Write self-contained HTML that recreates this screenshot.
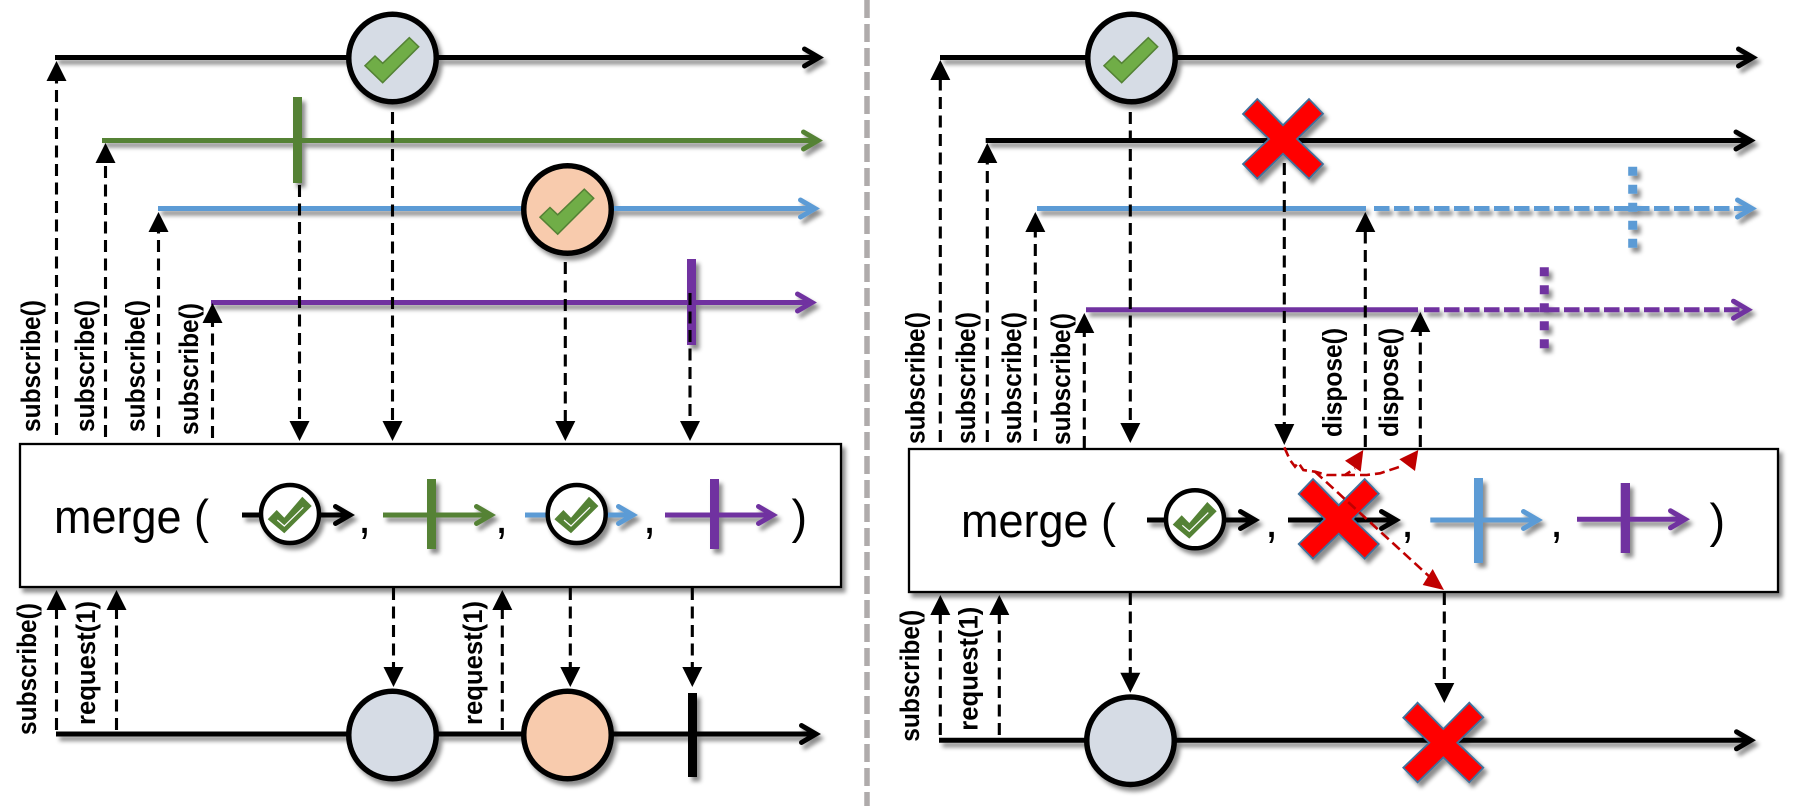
<!DOCTYPE html>
<html lang="en">
<head>
<meta charset="utf-8">
<title>merge diagram</title>
<style>
html,body{margin:0;padding:0;background:#fff;}
svg{display:block;}
.lbl{font-family:"Liberation Sans",sans-serif;font-weight:700;font-size:27px;fill:#000;}
.big{font-family:"Liberation Sans",sans-serif;font-size:47px;fill:#000;}
.d{stroke:#000;stroke-width:3.1;stroke-dasharray:12 6.5;fill:none;}
.ln{stroke-width:5;fill:none;}
.ch{stroke-width:5;fill:none;stroke-linecap:round;stroke-linejoin:miter;}
.k{stroke:#000;}.g{stroke:#548235;}.b{stroke:#5b9bd5;}.p{stroke:#7030a0;}
.chk{fill:#70ad47;stroke:#548235;stroke-width:1.5;}
.x{fill:#f00;stroke:#41719c;stroke-width:1.8;}
.r{stroke:#c00000;stroke-width:2.6;stroke-dasharray:10 5;fill:none;}
</style>
</head>
<body>
<svg xmlns="http://www.w3.org/2000/svg" width="1794" height="810" viewBox="0 0 1794 810">
<defs>
<filter id="s" filterUnits="userSpaceOnUse" x="0" y="0" width="1794" height="810">
<feDropShadow dx="3.5" dy="4.5" stdDeviation="2.2" flood-color="#000" flood-opacity="0.45"/>
</filter>
</defs>
<rect width="1794" height="810" fill="#fff"/>

<!-- divider -->
<line x1="867" y1="0" x2="867" y2="806" stroke="#afabab" stroke-width="5.5" stroke-dasharray="18 6"/>

<!-- boxes -->
<g filter="url(#s)">
<rect x="20" y="444" width="821" height="143" fill="#fff" stroke="#000" stroke-width="2.3"/>
<rect x="909" y="449" width="869" height="143" fill="#fff" stroke="#000" stroke-width="2.3"/>
</g>

<!-- left streams -->
<g filter="url(#s)">
<line class="ln k" x1="55" y1="57.5" x2="819" y2="57.5"/>
<polyline class="ch k" points="804.5,49 819,57.5 804.5,66"/>
<line class="ln g" x1="102" y1="140.5" x2="818" y2="140.5"/>
<polyline class="ch g" points="803.5,132 818,140.5 803.5,149"/>
<rect x="293" y="97" width="9" height="86" fill="#548235"/>
<line class="ln b" x1="158" y1="208.5" x2="815" y2="208.5"/>
<polyline class="ch b" points="800.5,200 815,208.5 800.5,217"/>
<line class="ln p" x1="211" y1="302.5" x2="812" y2="302.5"/>
<polyline class="ch p" points="797.5,294 812,302.5 797.5,311"/>
<rect x="687" y="259" width="9" height="86" fill="#7030a0"/>
<circle cx="392.5" cy="58" r="43.75" fill="#d6dce5" stroke="#000" stroke-width="5.5"/>
<circle cx="567.5" cy="209.5" r="43.75" fill="#f8cbad" stroke="#000" stroke-width="5.5"/>
<!-- left bottom -->
<line class="ln k" x1="56" y1="734" x2="816" y2="734"/>
<polyline class="ch k" points="801.5,725.5 816,734 801.5,742.5"/>
<circle cx="392.5" cy="735" r="43.75" fill="#d6dce5" stroke="#000" stroke-width="5.5"/>
<circle cx="567.5" cy="735" r="43.75" fill="#f8cbad" stroke="#000" stroke-width="5.5"/>
<rect x="688" y="693" width="9" height="84" fill="#000"/>
<!-- left box icons -->
<line class="ln k" x1="242" y1="515" x2="350" y2="515"/>
<polyline class="ch k" points="335.5,506.5 350,515 335.5,523.5"/>
<circle cx="290" cy="514" r="29" fill="#fff" stroke="#000" stroke-width="4.5"/>
<line class="ln g" x1="383" y1="515" x2="491" y2="515"/>
<polyline class="ch g" points="476.5,506.5 491,515 476.5,523.5"/>
<rect x="427" y="479" width="9" height="70" fill="#548235"/>
<line class="ln b" x1="525" y1="515" x2="633" y2="515"/>
<polyline class="ch b" points="618.5,506.5 633,515 618.5,523.5"/>
<circle cx="576.7" cy="514" r="29" fill="#fff" stroke="#000" stroke-width="4.5"/>
<line class="ln p" x1="665" y1="515" x2="773" y2="515"/>
<polyline class="ch p" points="758.5,506.5 773,515 758.5,523.5"/>
<rect x="710" y="479" width="9" height="70" fill="#7030a0"/>
</g>

<!-- right streams -->
<g filter="url(#s)">
<line class="ln k" x1="940" y1="57.5" x2="1753" y2="57.5"/>
<polyline class="ch k" points="1738.5,49 1753,57.5 1738.5,66"/>
<line class="ln k" x1="985.7" y1="140.5" x2="1750.7" y2="140.5"/>
<polyline class="ch k" points="1736,132 1750.7,140.5 1736,149"/>
<line class="ln b" x1="1037" y1="208.5" x2="1366" y2="208.5"/>
<line class="ln b" x1="1374" y1="208.5" x2="1752" y2="208.5" stroke-dasharray="15.5 4.5"/>
<polyline class="ch b" points="1737.5,200 1752,208.5 1737.5,217"/>
<line x1="1632.7" y1="166.7" x2="1632.7" y2="248" stroke="#5b9bd5" stroke-width="9" stroke-dasharray="9 9"/>
<line class="ln p" x1="1086" y1="309.7" x2="1418" y2="309.7"/>
<line class="ln p" x1="1424" y1="309.7" x2="1748" y2="309.7" stroke-dasharray="15.5 4.5"/>
<polyline class="ch p" points="1733.5,301.2 1748,309.7 1733.5,318.2"/>
<line x1="1544.3" y1="267.3" x2="1544.3" y2="348.7" stroke="#7030a0" stroke-width="9" stroke-dasharray="9 9"/>
<circle cx="1131.5" cy="58" r="43.75" fill="#d6dce5" stroke="#000" stroke-width="5.5"/>
<polygon class="x" points="1257.3,99 1283,125.3 1309,99 1323,113.7 1297,139 1323,164 1309,178.7 1283,153.7 1257.3,178.7 1243,164 1269,139 1243,114"/>
<!-- right bottom -->
<line class="ln k" x1="939" y1="740.3" x2="1751" y2="740.3"/>
<polyline class="ch k" points="1736.5,731.8 1751,740.3 1736.5,748.8"/>
<circle cx="1130.5" cy="740.7" r="43.75" fill="#d6dce5" stroke="#000" stroke-width="5.5"/>
<polygon class="x" points="1417.6,702.7 1443.3,729 1469.3,702.7 1483.3,717.4 1457.3,742.7 1483.3,767.7 1469.3,782.4 1443.3,757.4 1417.6,782.4 1403.3,767.7 1429.3,742.7 1403.3,717.7"/>
<!-- right box icons -->
<line class="ln k" x1="1147" y1="520" x2="1255" y2="520"/>
<polyline class="ch k" points="1240.5,511.5 1255,520 1240.5,528.5"/>
<circle cx="1195" cy="519.3" r="29" fill="#fff" stroke="#000" stroke-width="4.5"/>
<line class="ln k" x1="1288" y1="520" x2="1396" y2="520"/>
<polyline class="ch k" points="1381.5,511.5 1396,520 1381.5,528.5"/>
<polygon class="x" points="1313,479 1338.7,505.3 1364.7,479 1378.7,493.7 1352.7,519 1378.7,544 1364.7,558.7 1338.7,533.7 1313,558.7 1298.7,544 1324.7,519 1298.7,494"/>
<line class="ln b" x1="1430.3" y1="520" x2="1538" y2="520"/>
<polyline class="ch b" points="1523.5,511.5 1538,520 1523.5,528.5"/>
<rect x="1474" y="478" width="9" height="85" fill="#5b9bd5"/>
<line class="ln p" x1="1577" y1="519.3" x2="1685" y2="519.3"/>
<polyline class="ch p" points="1670.5,510.8 1685,519.3 1670.5,527.8"/>
<rect x="1620.7" y="483" width="9.3" height="70" fill="#7030a0"/>
</g>

<!-- check marks -->
<g class="chk">
<polygon points="365,65.7 375,56 382.7,63.3 409.3,37.7 418.7,46.7 382.7,82.7"/>
<polygon points="540,217.2 550,207.5 557.7,214.8 584.3,189.2 593.7,198.2 557.7,234.2"/>
<polygon points="1104,65.7 1114,56 1121.7,63.3 1148.3,37.7 1157.7,46.7 1121.7,82.7"/>
</g>
<g fill="#548235">
<polygon points="267.7,519.3 276.7,510 284.3,517.7 302.3,496.7 311.7,506 284.3,533.3"/>
<polygon points="554.4,519.3 563.4,510 571,517.7 589,496.7 598.4,506 571,533.3"/>
<polygon points="1172.7,524.6 1181.7,515.3 1189.3,523 1207.3,502 1216.7,511.3 1189.3,538.6"/>
</g>
<g fill="none" stroke="#fff" stroke-width="1.2">
<polyline points="277.3,520 284.3,526 303.3,507.3"/>
<polyline points="564,520 571,526 590,507.3"/>
<polyline points="1182.3,525.3 1189.3,531.3 1208.3,512.6"/>
</g>

<!-- merge text -->
<text class="big" x="54" y="533" textLength="155" lengthAdjust="spacingAndGlyphs">merge (</text>
<text class="big" x="358" y="533">,</text>
<text class="big" x="495" y="533">,</text>
<text class="big" x="643" y="533">,</text>
<text class="big" x="791.5" y="533">)</text>
<text class="big" x="961" y="537" textLength="155" lengthAdjust="spacingAndGlyphs">merge (</text>
<text class="big" x="1265" y="537">,</text>
<text class="big" x="1401" y="537">,</text>
<text class="big" x="1550" y="537">,</text>
<text class="big" x="1709.5" y="537">)</text>

<!-- rotated labels -->
<text class="lbl" transform="translate(40 432) rotate(-90)" textLength="132" lengthAdjust="spacingAndGlyphs">subscribe()</text>
<text class="lbl" transform="translate(94 432) rotate(-90)" textLength="132" lengthAdjust="spacingAndGlyphs">subscribe()</text>
<text class="lbl" transform="translate(144.5 432) rotate(-90)" textLength="132" lengthAdjust="spacingAndGlyphs">subscribe()</text>
<text class="lbl" transform="translate(198 435) rotate(-90)" textLength="132" lengthAdjust="spacingAndGlyphs">subscribe()</text>
<text class="lbl" transform="translate(36 735) rotate(-90)" textLength="132" lengthAdjust="spacingAndGlyphs">subscribe()</text>
<text class="lbl" transform="translate(95 725) rotate(-90)" textLength="124" lengthAdjust="spacingAndGlyphs">request(1)</text>
<text class="lbl" transform="translate(482 725) rotate(-90)" textLength="124" lengthAdjust="spacingAndGlyphs">request(1)</text>
<text class="lbl" transform="translate(924.3 444) rotate(-90)" textLength="132" lengthAdjust="spacingAndGlyphs">subscribe()</text>
<text class="lbl" transform="translate(975 444) rotate(-90)" textLength="132" lengthAdjust="spacingAndGlyphs">subscribe()</text>
<text class="lbl" transform="translate(1021 444) rotate(-90)" textLength="132" lengthAdjust="spacingAndGlyphs">subscribe()</text>
<text class="lbl" transform="translate(1070 445) rotate(-90)" textLength="132" lengthAdjust="spacingAndGlyphs">subscribe()</text>
<text class="lbl" transform="translate(1341.7 437) rotate(-90)" textLength="109" lengthAdjust="spacingAndGlyphs">dispose()</text>
<text class="lbl" transform="translate(1398 437) rotate(-90)" textLength="109" lengthAdjust="spacingAndGlyphs">dispose()</text>
<text class="lbl" transform="translate(919 741.7) rotate(-90)" textLength="132" lengthAdjust="spacingAndGlyphs">subscribe()</text>
<text class="lbl" transform="translate(977.7 730.7) rotate(-90)" textLength="124" lengthAdjust="spacingAndGlyphs">request(1)</text>

<!-- dashed connectors -->
<g>
<line class="d" x1="56.5" y1="435" x2="56.5" y2="78"/>
<line class="d" x1="105.5" y1="437" x2="105.5" y2="160"/>
<line class="d" x1="158.5" y1="437" x2="158.5" y2="229"/>
<line class="d" x1="212.5" y1="438" x2="212.5" y2="320"/>
<line class="d" x1="299.5" y1="185" x2="299.5" y2="424"/>
<line class="d" x1="392.5" y1="112" x2="392.5" y2="424"/>
<line class="d" x1="565.3" y1="262" x2="565.3" y2="424"/>
<line class="d" x1="690" y1="293" x2="690" y2="424"/>
<line class="d" x1="56.5" y1="730" x2="56.5" y2="607"/>
<line class="d" x1="116.5" y1="730" x2="116.5" y2="607"/>
<line class="d" x1="502.3" y1="730" x2="502.3" y2="607"/>
<line class="d" x1="393.5" y1="588" x2="393.5" y2="670"/>
<line class="d" x1="570.3" y1="588" x2="570.3" y2="670"/>
<line class="d" x1="692.3" y1="588" x2="692.3" y2="670"/>
<line class="d" x1="940.3" y1="442" x2="940.3" y2="77"/>
<line class="d" x1="987.3" y1="442" x2="987.3" y2="160"/>
<line class="d" x1="1035.3" y1="441" x2="1035.3" y2="229"/>
<line class="d" x1="1084.3" y1="448" x2="1084.3" y2="330"/>
<line class="d" x1="1130.3" y1="112" x2="1130.3" y2="426"/>
<line class="d" x1="1284.3" y1="163" x2="1284.3" y2="427"/>
<line class="d" x1="1365.3" y1="447" x2="1365.3" y2="229"/>
<line class="d" x1="1420.3" y1="447" x2="1420.3" y2="329"/>
<line class="d" x1="940.3" y1="735" x2="940.3" y2="612"/>
<line class="d" x1="999.3" y1="735" x2="999.3" y2="612"/>
<line class="d" x1="1130.3" y1="593" x2="1130.3" y2="676"/>
<line class="d" x1="1444.3" y1="593" x2="1444.3" y2="686"/>
</g>

<!-- black arrowheads -->
<g fill="#000">
<polygon points="56.5,61 46.5,81 66.5,81"/>
<polygon points="105.5,143 95.5,163 115.5,163"/>
<polygon points="158.5,212 148.5,232 168.5,232"/>
<polygon points="212.5,303 202.5,323 222.5,323"/>
<polygon points="299.5,441 289.5,421 309.5,421"/>
<polygon points="392.5,441 382.5,421 402.5,421"/>
<polygon points="565.3,441 555.3,421 575.3,421"/>
<polygon points="690,441 680,421 700,421"/>
<polygon points="56.5,590 46.5,610 66.5,610"/>
<polygon points="116.5,590 106.5,610 126.5,610"/>
<polygon points="502.3,590 492.3,610 512.3,610"/>
<polygon points="393.5,687 383.5,667 403.5,667"/>
<polygon points="570.3,687 560.3,667 580.3,667"/>
<polygon points="692.3,687 682.3,667 702.3,667"/>
<polygon points="940.3,60 930.3,80 950.3,80"/>
<polygon points="987.3,143 977.3,163 997.3,163"/>
<polygon points="1035.3,212 1025.3,232 1045.3,232"/>
<polygon points="1084.3,313 1074.3,333 1094.3,333"/>
<polygon points="1130.3,443 1120.3,423 1140.3,423"/>
<polygon points="1284.3,445 1274.3,424 1294.3,424"/>
<polygon points="1365.3,212 1355.3,232 1375.3,232"/>
<polygon points="1420.3,312 1410.3,332 1430.3,332"/>
<polygon points="940.3,595 930.3,615 950.3,615"/>
<polygon points="999.3,595 989.3,615 1009.3,615"/>
<polygon points="1130.3,692.7 1120.3,672.7 1140.3,672.7"/>
<polygon points="1444.3,703 1434.3,683 1454.3,683"/>
</g>

<!-- red dashed arrows -->
<polyline class="r" points="1284.3,447.3 1290,460 1295,466.7 1298.3,462.7 1303.3,470 1315,471.7 1326.7,475 1345,475 1355,468.3"/>
<polyline class="r" points="1345,475 1366.7,475 1380,473.3 1402,466"/>
<line class="r" x1="1315" y1="471.7" x2="1436.7" y2="583.3"/>
<g fill="#c00000">
<polygon points="1363.3,450 1345,460.7 1360.7,471.7"/>
<polygon points="1418.3,450 1399.3,459.3 1415,471"/>
<polygon points="1444,590 1422.7,585 1432.7,569"/>
</g>
</svg>
</body>
</html>
